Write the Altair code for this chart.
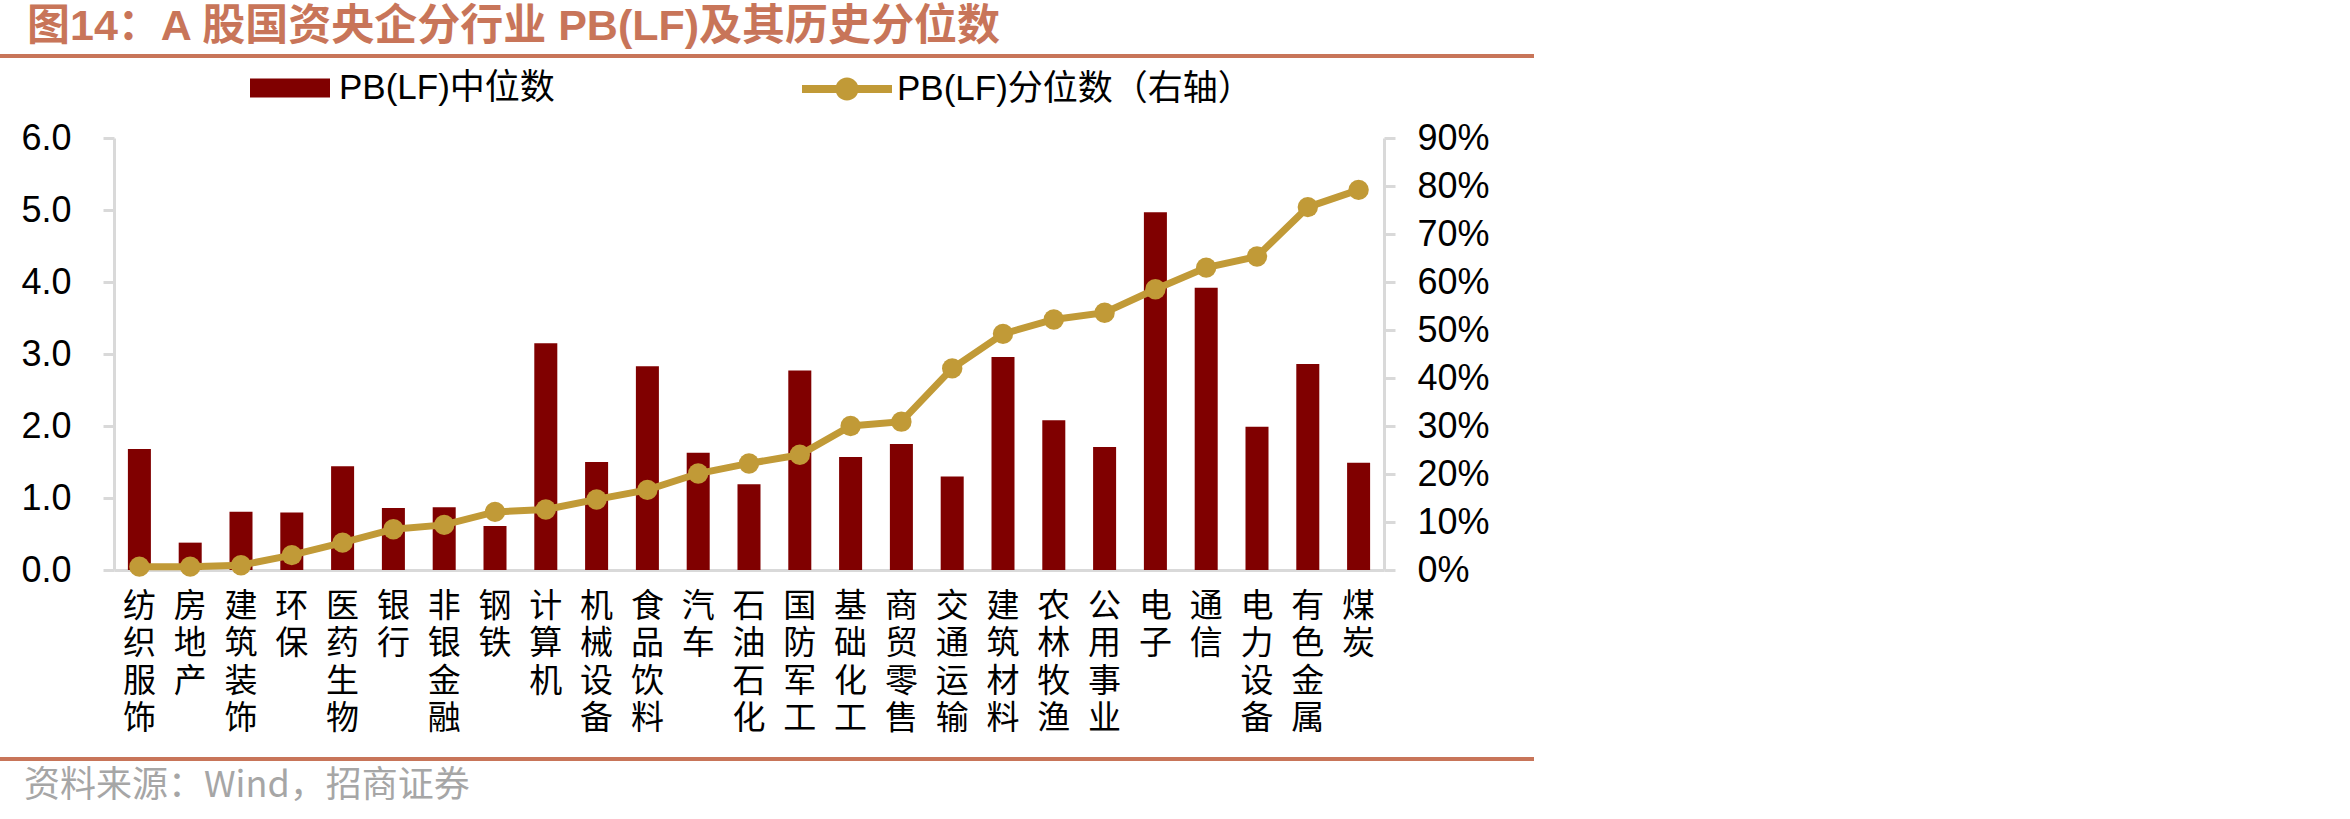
import altair as alt
import pandas as pd

categories = ["纺织服饰", "房地产", "建筑装饰", "环保", "医药生物", "银行", "非银金融", "钢铁",
              "计算机", "机械设备", "食品饮料", "汽车", "石油石化", "国防军工", "基础化工", "商贸零售",
              "交通运输", "建筑材料", "农林牧渔", "公用事业", "电子", "通信", "电力设备", "有色金属", "煤炭"]
pb_median = [1.68, 0.38, 0.81, 0.80, 1.44, 0.86, 0.87, 0.61, 3.15, 1.50, 2.83, 1.63, 1.19,
             2.77, 1.57, 1.75, 1.30, 2.96, 2.08, 1.71, 4.97, 3.92, 1.99, 2.86, 1.49]
pb_percentile = [0.7, 0.7, 1.0, 3.1, 5.7, 8.5, 9.4, 12.1, 12.6, 14.7, 16.7, 20.1, 22.2,
                 24.0, 30.0, 30.9, 42.0, 49.2, 52.2, 53.6, 58.5, 63.0, 65.3, 75.6, 79.2]
left_ticks = [0, 1, 2, 3, 4, 5, 6]
right_ticks = [0, 0.1, 0.2, 0.3, 0.4, 0.5, 0.6, 0.7, 0.8, 0.9]

title_text = "图14：A 股国资央企分行业 PB(LF)及其历史分位数"
source_text = "资料来源：Wind，招商证券"
bar_name = "PB(LF)中位数"
line_name = "PB(LF)分位数（右轴）"

RED = "#800000"
GOLD = "#C19A37"
ACCENT = "#C87559"
AXIS_GRAY = "#D9D9D9"
LATIN = "Liberation Sans, Noto Sans CJK SC"
CJK = "Noto Sans CJK SC"

W, H = 1270, 432
PL, PT = 114, 138

df = pd.DataFrame({
    "industry": categories,
    "pb": pb_median,
    "pct": [v / 100 for v in pb_percentile],
    "s1": bar_name,
    "s2": line_name,
})

x_enc = alt.X(
    "industry:N", sort=categories, title=None,
    scale=alt.Scale(paddingInner=0.547, paddingOuter=0.2735),
    axis=alt.Axis(
        labelExpr="split(datum.label, '')",
        labelAngle=0, labelAlign="center", labelBaseline="top",
        labelFont=CJK, labelFontSize=33, labelLineHeight=37.5, labelColor="#000000",
        labelPadding=20, labelOverlap=False, labelFlush=False, labelBound=False,
        ticks=False, domainColor=AXIS_GRAY, domainWidth=3, grid=False,
    ),
)

bars = alt.Chart(df).mark_bar().encode(
    x=x_enc,
    y=alt.Y("pb:Q", title=None,
            scale=alt.Scale(domain=[0, 6], nice=False),
            axis=alt.Axis(values=left_ticks, format=".1f", orient="left",
                          labelFont=LATIN, labelFontSize=36, labelColor="#000000",
                          labelPadding=32, tickSize=11, tickWidth=3, tickColor=AXIS_GRAY,
                          domainColor=AXIS_GRAY, domainWidth=3, grid=False)),
    color=alt.Color("s1:N", scale=alt.Scale(domain=[bar_name], range=[RED]),
                    legend=alt.Legend(
                        title=None, orient="none", legendX=136, legendY=-90,
                        symbolType="M-1,-0.2375H1V0.2375H-1Z", symbolSize=6400,
                        symbolStrokeWidth=0, symbolOpacity=1, padding=0,
                        labelFont=LATIN, labelFontSize=35, labelColor="#000000",
                        labelOffset=9, labelLimit=0)),
)

y_right = alt.Y("pct:Q", title=None,
                scale=alt.Scale(domain=[0, 0.9], nice=False),
                axis=alt.Axis(values=right_ticks, format=".0%", orient="right",
                              labelFont=LATIN, labelFontSize=36, labelColor="#000000",
                              labelPadding=22, tickSize=11, tickWidth=3, tickColor=AXIS_GRAY,
                              domainColor=AXIS_GRAY, domainWidth=3, grid=False))

line = alt.Chart(df).mark_line(color=GOLD, strokeWidth=7).encode(x=x_enc, y=y_right)
points = alt.Chart(df).mark_circle(size=415, opacity=1).encode(
    x=x_enc, y=y_right,
    color=alt.Color("s2:N", scale=alt.Scale(domain=[line_name], range=[GOLD]),
                    legend=alt.Legend(
                        title=None, orient="none", legendX=688, legendY=-94,
                        symbolType=("M-1,-0.089H1V0.089H-1Z "
                                    "M-0.256,0A0.256,0.256 0 1,1 0.256,0A0.256,0.256 0 1,1 -0.256,0Z"),
                        symbolSize=8100, symbolStrokeWidth=0, symbolOpacity=1, padding=0,
                        labelFont=LATIN, labelFontSize=35, labelColor="#000000",
                        labelOffset=5, labelLimit=0)),
)

right_layer = alt.layer(line, points)

one = pd.DataFrame({"v": [0]})
title_mark = alt.Chart(one).mark_text(
    text=title_text, font=LATIN, fontSize=43, fontWeight="bold", color=ACCENT,
    align="left", baseline="middle",
).encode(x=alt.value(27 - PL), y=alt.value(27 - PT))

top_rule = alt.Chart(one).mark_rule(color=ACCENT, strokeWidth=4).encode(
    x=alt.value(-PL), x2=alt.value(1534 - PL), y=alt.value(56 - PT))
bottom_rule = alt.Chart(one).mark_rule(color=ACCENT, strokeWidth=4).encode(
    x=alt.value(-PL), x2=alt.value(1534 - PL), y=alt.value(759 - PT))

source_mark = alt.Chart(one).mark_text(
    text=source_text, font=CJK, fontSize=36, color="#A6A6A6",
    align="left", baseline="middle",
).encode(x=alt.value(24 - PL), y=alt.value(786 - PT))

chart = alt.layer(
    bars, right_layer, title_mark, top_rule, bottom_rule, source_mark
).resolve_scale(
    y="independent", color="independent"
).properties(
    width=W, height=H,
    autosize=alt.AutoSizeParams(type="none"),
    padding={"left": PL, "top": PT, "right": 2350 - PL - W, "bottom": 819 - PT - H},
    background="#FFFFFF",
).configure_view(stroke=None)

chart.save("out.html", embed_options={"renderer": "svg", "actions": False})
